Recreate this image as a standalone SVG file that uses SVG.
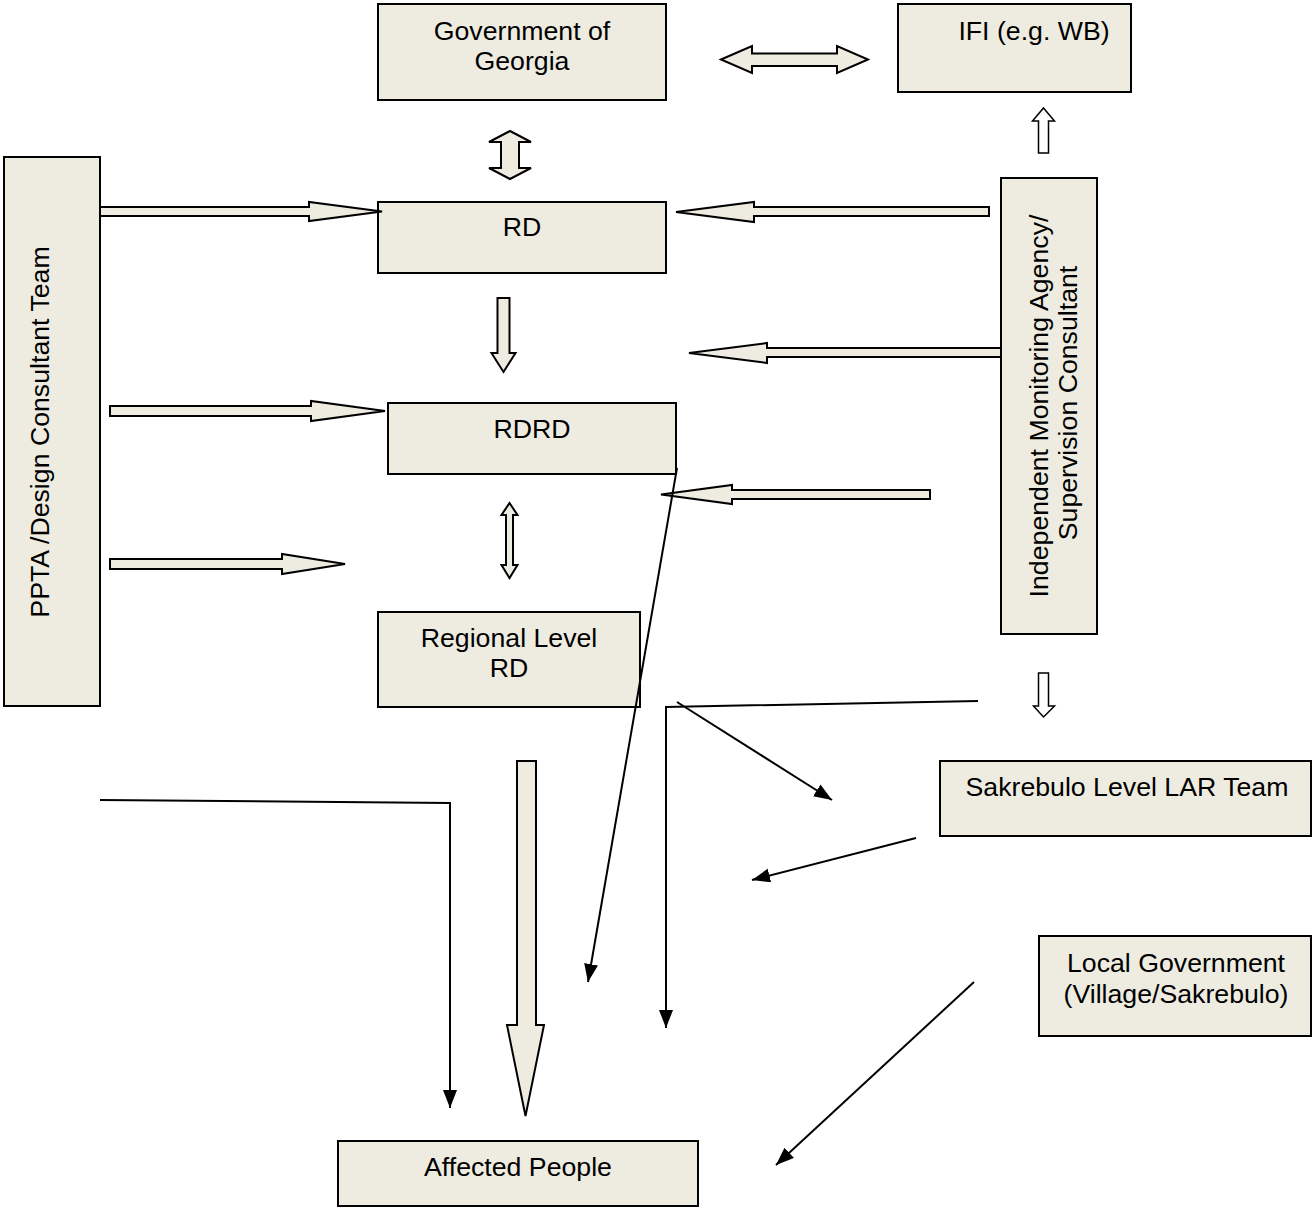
<svg xmlns="http://www.w3.org/2000/svg" width="1314" height="1208" viewBox="0 0 1314 1208">
<style>
.box{fill:#EEECE1;stroke:#000;stroke-width:2}
.blk{fill:#EEECE1;stroke:#000;stroke-width:2;stroke-linejoin:miter}
.wht{fill:#fff;stroke:#000;stroke-width:1.5}
.ln{fill:none;stroke:#000;stroke-width:2;marker-end:url(#ah)}
text{font-family:"Liberation Sans",Arial,sans-serif;font-size:26.7px;fill:#000;text-anchor:middle}
</style>
<defs>
<marker id="ah" markerUnits="userSpaceOnUse" markerWidth="20" markerHeight="16" refX="18" refY="7" orient="auto">
<path d="M0,0 L18,7 L0,14 z" fill="#000"/>
</marker>
</defs>
<rect width="1314" height="1208" fill="#fff"/>
<g id="gov"><rect class="box" x="378" y="4" width="288" height="96"/><text x="522" y="40">Government of</text><text x="522" y="70">Georgia</text></g>
<g id="ifi"><rect class="box" x="898" y="4" width="233" height="88"/><text x="1034" y="40">IFI (e.g. WB)</text></g>
<g id="ppta"><rect class="box" x="4" y="157" width="96" height="549"/><text transform="translate(49,432) rotate(-90)">PPTA /Design Consultant Team</text></g>
<g id="rd"><rect class="box" x="378" y="202" width="288" height="71"/><text x="522" y="236">RD</text></g>
<g id="rdrd"><rect class="box" x="388" y="403" width="288" height="71"/><text x="532" y="438">RDRD</text></g>
<g id="regional"><rect class="box" x="378" y="612" width="262" height="95"/><text x="509" y="647">Regional Level</text><text x="509" y="677">RD</text></g>
<g id="monitor"><rect class="box" x="1001" y="178" width="96" height="456"/><text transform="translate(1048,406) rotate(-90)">Independent Monitoring Agency/</text><text transform="translate(1077,403) rotate(-90)">Supervision Consultant</text></g>
<g id="sakrebulo"><rect class="box" x="940" y="761" width="371" height="75"/><text x="1127" y="796">Sakrebulo Level LAR Team</text></g>
<g id="localgov"><rect class="box" x="1039" y="936" width="272" height="100"/><text x="1176" y="972">Local Government</text><text x="1176" y="1003">(Village/Sakrebulo)</text></g>
<g id="affected"><rect class="box" x="338" y="1141" width="360" height="65"/><text x="518" y="1176">Affected People</text></g>
<g id="connectors">
<polygon class="blk" points="721,59.5 752,46 752,53.5 837,53.5 837,46 868,59.5 837,73 837,66 752,66 752,73"/>
<polygon class="blk" points="510,131 531,142 519,142 519,168 531,168 510,179 489,168 501,168 501,142 489,142"/>
<polygon class="blk" points="100,207 309,207 309,202 382,211.5 309,221 309,216 100,216"/>
<polygon class="blk" points="989,207 754,207 754,202 676,212 754,222 754,216 989,216"/>
<polygon class="blk" points="497.5,298 509.5,298 509.5,353 515.5,353 503.5,372 491.5,353 497.5,353"/>
<polygon class="blk" points="1001,348 767,348 767,343 689,353 767,363 767,357 1001,357"/>
<polygon class="blk" points="110,406 311,406 311,401 385,411 311,421 311,416 110,416"/>
<polygon class="blk" points="930,490 732,490 732,485 661,494.5 732,504 732,499 930,499"/>
<polygon class="blk" points="110,559 282,559 282,554 345,564 282,574 282,569 110,569"/>
<polygon class="blk" points="509.5,503 517.5,515 513,515 513,565 517.5,565 509.5,578 501.5,565 506,565 506,515 501.5,515"/>
<polygon class="wht" points="1043.5,108 1054.5,121 1048.5,121 1048.5,153 1038.5,153 1038.5,121 1032.5,121"/>
<polygon class="wht" points="1038.5,673 1048.5,673 1048.5,706 1054.5,706 1043.5,717 1033.5,706 1038.5,706"/>
<polygon class="blk" points="517,761 536,761 536,1025 544,1025 525.5,1116 507,1025 517,1025"/>
<line class="ln" x1="677" y1="468" x2="588" y2="982"/>
<polyline class="ln" points="978,701 666,707 666,1028"/>
<line class="ln" x1="677" y1="702" x2="832" y2="800"/>
<line class="ln" x1="916" y1="838" x2="752" y2="880"/>
<line class="ln" x1="974" y1="982" x2="776" y2="1165"/>
<polyline class="ln" points="100,800 450,803 450,1108"/>
</g>
</svg>
